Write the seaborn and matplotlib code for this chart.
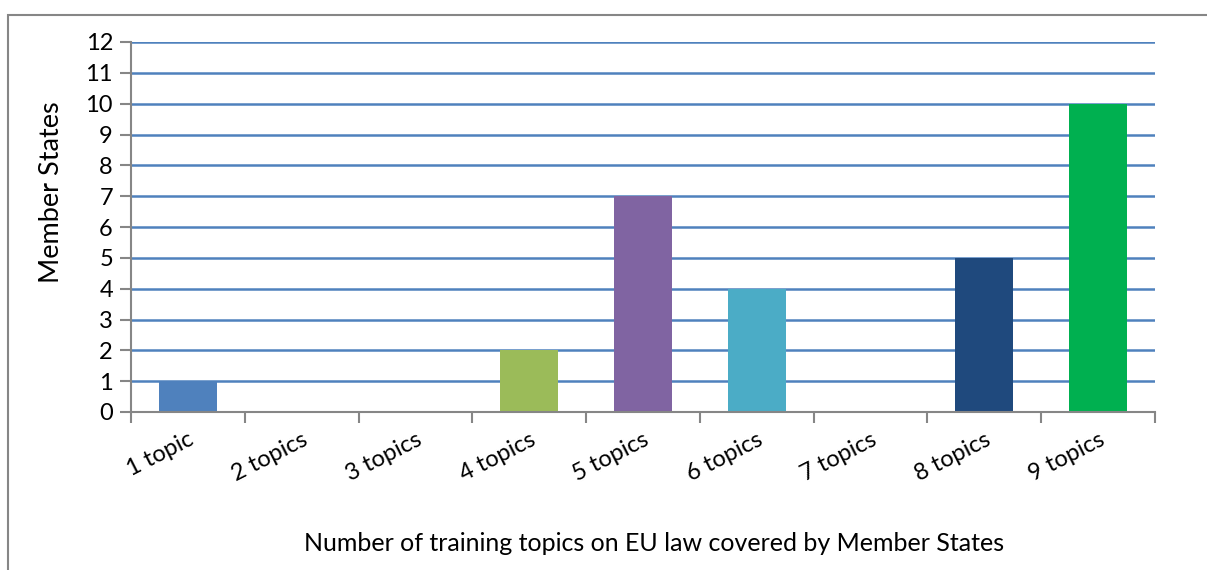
import matplotlib
matplotlib.use("Agg")
import matplotlib.pyplot as plt
import numpy as np
import pandas as pd
import seaborn as sns
from matplotlib.patches import Rectangle

# ----------------------------------------------------------------
# data
# ----------------------------------------------------------------
categories = ["1 topic", "2 topics", "3 topics", "4 topics", "5 topics",
              "6 topics", "7 topics", "8 topics", "9 topics"]
member_states = [1, 0, 0, 2, 7, 4, 0, 5, 10]
bar_colors = ["#4F81BD", "#C0504D", "#F79646", "#9BBB59", "#8064A2",
              "#4BACC6", "#F79646", "#1F497D", "#00B050"]

GRID = "#4F81BD"
AXIS = "#868686"
INK = "#000000"

sns.set_theme(style="white")
plt.rcParams["font.family"] = ["Lato", "DejaVu Sans"]

df = pd.DataFrame({"topics": categories, "count": member_states})

fig = plt.figure(figsize=(12.07, 5.70), dpi=100)
W, H = 1207, 570
ax = fig.add_axes([131 / W, (H - 412) / H, 1024 / W, 370 / H])

# outer chart border (runs off the right / bottom edge)
fig.patches.append(Rectangle((8 / W, -0.05), 1.2, (H - 15) / H + 0.05,
                             transform=fig.transFigure, fill=False,
                             edgecolor=AXIS, linewidth=1.5, zorder=0))

for v in range(1, 13):
    ax.axhline(v, color=GRID, linewidth=1.8, zorder=0)

sns.barplot(data=df, x="topics", y="count", hue="topics", palette=bar_colors,
            width=0.51, legend=False, saturation=1, linewidth=0,
            ax=ax, zorder=2)

ax.set_xlim(-0.5, len(categories) - 0.5)
ax.set_ylim(0, 12)
ax.set_yticks(range(0, 13))
ax.tick_params(axis="y", which="major", length=8, width=1.5, color=AXIS,
               labelsize=17, labelcolor=INK, pad=5, left=True)

ax.set_xticks(range(len(categories)))
ax.set_xticks(np.arange(-0.5, len(categories)), minor=True)
ax.tick_params(axis="x", which="major", length=0, pad=12)
ax.tick_params(axis="x", which="minor", length=8, width=1.5, color=AXIS,
               bottom=True)
ax.set_xticklabels(categories, rotation=27, ha="right",
                   rotation_mode="anchor", fontsize=17, color=INK)

for s in ["top", "right"]:
    ax.spines[s].set_visible(False)
for s in ["left", "bottom"]:
    ax.spines[s].set_color(AXIS)
    ax.spines[s].set_linewidth(1.5)
    ax.spines[s].set_zorder(3)

ax.set_xlabel("Number of training topics on EU law covered by Member States",
              fontsize=18, color=INK)
ax.set_ylabel("Member States", fontsize=19.5, color=INK)
ax.xaxis.set_label_coords(0.511, -0.325)
ax.yaxis.set_label_coords(-0.065, 0.595)

fig.savefig("out.png", dpi=100, facecolor="white")
